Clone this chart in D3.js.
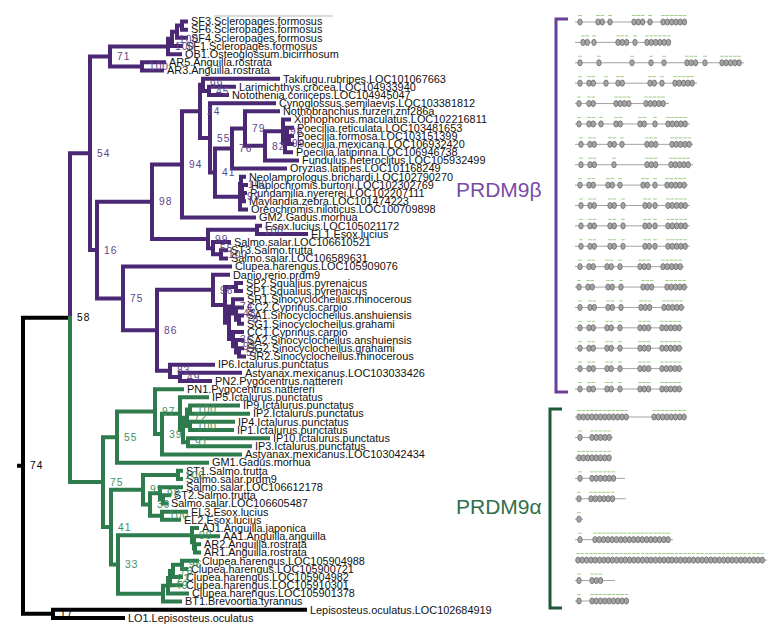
<!DOCTYPE html>
<html><head><meta charset="utf-8">
<script src="https://cdn.jsdelivr.net/npm/d3@7"></script>
<style>body{margin:0;background:#fff}</style>
</head><body><svg id="c" width="779" height="633"></svg>
<script>
// ---------- tree data ----------
const nodeNames = ["root","T","L","P","OA","Osteo","SFn1","SFn2","SFn3","AngR","Q","R","N94","A1","TLN","LN","N55","N41","N76","N79","N82","Poe1","Poe2","Poe3","Poe4","Cich1","Cich2","Cich3","Cich4","E","EsoxP","S1","S2","S","U","V","V2","SPp","V3","Cy1","Cy1b","Cy1c","Cy2","Cy2b","Cy2c","W","W2","G","G1","O","O2","I","I2","I3","IPa","IPb","I4","G2","SE","STp","SE2","STt","STi","ELp","AC","AN","AN2","AN3","CB","C1","C2","C3","C4"];
const nodeParents = [null,"root","root","T","P","OA","Osteo","SFn1","SFn2","OA","P","Q","R","N94","A1","TLN","A1","N55","N41","N76","N79","N82","Poe1","Poe2","Poe3","N41","Cich1","Cich2","Cich3","R","E","E","S1","Q","S","U","V","V2","V2","V3","Cy1","Cy1b","V3","Cy2","Cy2b","U","W","T","G","G1","O","O2","I","I2","I3","I3","I2","G","G2","SE","SE","SE2","STt","SE2","G2","AC","AN","AN2","AC","CB","C1","C2","C3"];
const nodeDepths = [0,47,30,67,87,145,149,154,159,119,74,129,159,177,180,186,187,192,209,222,242,260,262,264,266,217,218,219,220,185,234,190,198,100,134,190,202,213,206,210,213,216,210,213,216,147,157,80,94,132,139,157,160,164,167,167,165,88,120,155,127,137,140,139,95,169,171,172,140,145,147,150,159];
const nodeSupport = ["74","58","17","54","71","100","100","","","100","16","98","94","24","99","45","55","41","76","79","82","98","99","","","99","100","","","99","100","55","100","75","86","96","","","","74","48","78","36","94","57","83","49","75","55","97","39","","","72","100","100","91","41","99","100","39","98","","100","33","99","","","","49","22","76","96"];

const leafNames = ["SF3.Scleropages.formosus","SF6.Scleropages.formosus","SF4.Scleropages.formosus","SF1.Scleropages.formosus","OB1.Osteoglossum.bicirrhosum","AR5.Anguilla.rostrata","AR3.Anguilla.rostrata","Takifugu.rubripes.LOC101067663","Larimichthys.crocea.LOC104933940","Notothenia.coriiceps.LOC104945047","Cynoglossus.semilaevis.LOC103381812","Nothobranchius.furzeri.znf286a","Xiphophorus.maculatus.LOC102216811","Poecilia.reticulata.LOC103481653","Poecilia.formosa.LOC103151399","Poecilia.mexicana.LOC106932420","Poecilia.latipinna.LOC106946738","Fundulus.heteroclitus.LOC105932499","Oryzias.latipes.LOC101168249","Neolamprologus.brichardi.LOC102790270","Haplochromis.burtoni.LOC102302769","Pundamilia.nyererei.LOC102207111","Maylandia.zebra.LOC101474223","Oreochromis.niloticus.LOC100709898","GM2.Gadus.morhua","Esox.lucius.LOC105021172","EL1.Esox.lucius","Salmo.salar.LOC106610521","ST3.Salmo.trutta","Salmo.salar.LOC106589631","Clupea.harengus.LOC105909076","Danio.rerio.prdm9","SP2.Squalius.pyrenaicus","SP1.Squalius.pyrenaicus","SR1.Sinocyclocheilus.rhinocerous","CC2.Cyprinus.carpio","SA1.Sinocyclocheilus.anshuiensis","SG1.Sinocyclocheilus.grahami","CC1.Cyprinus.carpio","SA2.Sinocyclocheilus.anshuiensis","SG2.Sinocyclocheilus.grahami","SR2.Sinocyclocheilus.rhinocerous","IP6.Ictalurus.punctatus","Astyanax.mexicanus.LOC103033426","PN2.Pygocentrus.nattereri","PN1.Pygocentrus.nattereri","IP5.Ictalurus.punctatus","IP9.Ictalurus.punctatus","IP2.Ictalurus.punctatus","IP4.Ictalurus.punctatus","IP1.Ictalurus.punctatus","IP10.Ictalurus.punctatus","IP3.Ictalurus.punctatus","Astyanax.mexicanus.LOC103042434","GM1.Gadus.morhua","ST1.Salmo.trutta","Salmo.salar.prdm9","Salmo.salar.LOC106612178","ST2.Salmo.trutta","Salmo.salar.LOC106605487","EL3.Esox.lucius","EL2.Esox.lucius","AJ1.Anguilla.japonica","AA1.Anguilla.anguilla","AR2.Anguilla.rostrata","AR1.Anguilla.rostrata","Clupea.harengus.LOC105904988","Clupea.harengus.LOC105900721","Clupea.harengus.LOC105904982","Clupea.harengus.LOC105910301","Clupea.harengus.LOC105901378","BT1.Brevoortia.tyrannus","Lepisosteus.oculatus.LOC102684919","LO1.Lepisosteus.oculatus"];
const leafParents = ["SFn3","SFn3","SFn2","SFn1","Osteo","AngR","AngR","TLN","LN","LN","N55","N79","Poe1","Poe3","Poe4","Poe4","Poe2","N82","N76","Cich2","Cich3","Cich4","Cich4","Cich1","N94","EsoxP","EsoxP","S1","S2","S2","S","V","SPp","SPp","Cy1","Cy1b","Cy1c","Cy1c","Cy2","Cy2b","Cy2c","Cy2c","W","W2","W2","O","I","IPa","IPa","IPb","IPb","I4","I4","O2","G1","STp","STp","STt","STi","STi","ELp","ELp","AN","AN2","AN3","AN3","C4","C4","C3","C2","C1","CB","L","L"];
const leafDepths = [163,163,163,158,157,141,139,255,211,204,251,255,266,269,269,269,268,274,262,221,223,222,221,223,231,237,283,206,203,203,207,205,218,218,219,219,219,219,219,219,219,221,190,217,187,159,184,215,225,210,209,245,227,217,184,158,158,158,146,143,163,156,174,195,176,176,174,163,158,158,164,157,282,100];

const cladeStarts = ["root","P","G"];
const cladeKeys = ["outgroup","beta","alpha"];
const cladeLabels = ["PRDM9β","PRDM9α"];

// ---------- domain architecture rows (ZnF groups: [start, count]) ----------
const betaRowLengths = [110,95,169,122,94,115,118,118,113,115,115,115,109,113,110,108,108,108,108];
const betaRowZnf = [
 [[5,1],[23,2],[35,1],[59,3],[75,1],[88,6]],
 [[8,2],[19,1],[43,3],[60,1],[72,6]],
 [[5,1],[24,1],[57,1],[76,1],[89,1],[112,3],[130,1],[147,5]],
 [[5,1],[14,2],[31,1],[43,2],[75,2],[87,1],[100,5]],
 [[4,1],[14,2],[41,4],[71,5]],
 [[4,1],[14,2],[26,1],[41,2],[65,2],[80,1],[93,5]],
 [[6,1],[15,2],[35,2],[47,1],[72,3],[97,5]],
 [[6,1],[15,2],[39,1],[72,3],[96,5]],
 [[5,1],[14,2],[33,2],[45,1],[68,2],[80,1],[92,5]],
 [[6,1],[15,2],[35,2],[48,1],[70,2],[80,1],[93,5]],
 [[6,1],[15,2],[35,2],[48,1],[70,2],[80,1],[93,5]],
 [[6,1],[15,2],[35,2],[48,1],[70,2],[80,1],[93,5]],
 [[5,1],[14,2],[32,2],[45,1],[65,3],[88,5]],
 [[4,1],[13,2],[33,2],[46,1],[68,3],[92,5]],
 [[5,1],[15,2],[33,2],[46,1],[66,3],[89,5]],
 [[5,1],[14,2],[32,2],[45,1],[65,3],[87,5]],
 [[5,1],[14,2],[32,2],[45,1],[65,3],[87,5]],
 [[5,1],[14,2],[32,2],[45,1],[65,3],[87,5]],
 [[5,1],[14,2],[32,2],[45,1],[65,3],[87,5]]
];
const alphaRowLengths = [112,38,36,50,51,8,98,192,40,53];
const alphaRowZnf = [
 [[4,12],[79,8]],
 [[5,1],[17,5]],
 [[4,8]],
 [[5,1],[17,6]],
 [[4,1],[16,6]],
 [[4,1]],
 [[5,1],[20,18]],
 [[3,22],[97,22]],
 [[4,1],[17,3]],
 [[4,1],[17,9]]
];

// ---------- styles ----------
const branchColor = {outgroup:"#000000", beta:"#4b2874", alpha:"#2e7b4d"};
const supportColor = {outgroup:"#000000", beta:"#5e4489", alpha:"#3e8f5e"};
const font = "'Liberation Sans', Arial, Helvetica, sans-serif";

const svg = d3.select("#c");
const xScale = d3.scaleLinear().domain([0, 500]).range([23, 523]);
const yScale = d3.scaleLinear().domain([0, leafNames.length - 1]).range([21.5, 617.9]);

const rows = nodeNames.map((id, i) => ({id, parent: nodeParents[i], depth: nodeDepths[i], support: nodeSupport[i], leaf: false}))
  .concat(leafNames.map((id, i) => ({id, parent: leafParents[i], depth: leafDepths[i], leaf: true, order: i})));
const tree = d3.stratify().id(d => d.id).parentId(d => d.parent)(rows);

tree.eachAfter(n => {
  if (!n.children) n.py = yScale(n.data.order);
  else { const ys = n.children.map(c => c.py); n.py = (d3.min(ys) + d3.max(ys)) / 2; }
  n.px = xScale(n.data.depth);
});
tree.eachBefore(n => {
  const k = cladeStarts.indexOf(n.id);
  n.clade = k >= 0 ? cladeKeys[k] : n.parent.clade;
});

// branches
const order = {outgroup: 0, beta: 1, alpha: 2};
const edges = tree.descendants().filter(n => n.parent).sort((a, b) => order[a.clade] - order[b.clade]);
const gB = svg.append("g");
gB.append("line").attr("x1", xScale(-6)).attr("x2", xScale(0)).attr("y1", tree.py).attr("y2", tree.py)
  .attr("stroke", "#000").attr("stroke-width", 4);
gB.selectAll("path").data(edges).join("path")
  .attr("d", n => `M${n.parent.px},${n.parent.py}V${n.py}H${n.px}`)
  .attr("fill", "none").attr("stroke", n => branchColor[n.clade])
  .attr("stroke-width", 4).attr("stroke-linecap", "square").attr("stroke-linejoin", "miter");

// leaf labels
const leafText = svg.append("g").selectAll("text").data(tree.leaves()).join("text")
  .attr("x", n => n.px + 5).attr("y", n => n.py).attr("dy", "0.35em")
  .attr("font-family", font).attr("font-size", 10.9).attr("fill", "#111")
  .text(n => n.id);

// support labels
svg.append("g").selectAll("text").data(tree.descendants().filter(n => n.children && n.data.support)).join("text")
  .attr("x", n => n.px + 7).attr("y", n => n.py).attr("dy", "0.36em")
  .attr("font-family", font).attr("font-size", 10.2).attr("letter-spacing", 1)
  .attr("fill", n => supportColor[n.clade]).text(n => n.data.support);

// faint line above first label
const b0 = leafText.node().getBBox();
svg.append("line").attr("x1", b0.x + 23).attr("x2", b0.x + b0.width + 10)
  .attr("y1", yScale(0) - 5.5).attr("y2", yScale(0) - 5.5).attr("stroke", "#b8b8b8").attr("stroke-width", 1.2);

// clade labels
svg.append("text").attr("x", 456).attr("y", 189).attr("dy", "0.36em")
  .attr("font-family", font).attr("font-size", 21).attr("fill", "#7a4ba6").text(cladeLabels[0]);
svg.append("text").attr("x", 456).attr("y", 506).attr("dy", "0.36em")
  .attr("font-family", font).attr("font-size", 21).attr("fill", "#2f6f4a").text(cladeLabels[1]);

// domain rows
const domX = d3.scaleLinear().domain([0, 200]).range([575, 775]);
const betaY = d3.scaleLinear().domain([0, betaRowLengths.length - 1]).range([22, 389]);
const alphaY = d3.scaleLinear().domain([0, alphaRowLengths.length - 1]).range([417, 601]);
const znfStep = 4.3;
function drawRows(lengths, znfs, yS) {
  const g = svg.append("g");
  lengths.forEach((len, i) => {
    const y = yS(i);
    g.append("line").attr("x1", domX(0)).attr("x2", domX(len)).attr("y1", y).attr("y2", y)
      .attr("stroke", "#a3a3a3").attr("stroke-width", 1);
    const pos = [];
    znfs[i].forEach(([s, c]) => { for (let k = 0; k < c; k++) pos.push(s + k * znfStep); });
    pos.forEach(p => {
      g.append("line").attr("x1", domX(p) - 1.8).attr("x2", domX(p) + 1.8).attr("y1", y - 6.5).attr("y2", y - 6.5)
        .attr("stroke", "#9fcf86").attr("stroke-width", 1);
      g.append("ellipse").attr("cx", domX(p)).attr("cy", y).attr("rx", 2.2).attr("ry", 3.1)
        .attr("fill", "#a4a4a4").attr("stroke", "#6c6c6c").attr("stroke-width", 0.8);
    });
  });
}
drawRows(betaRowLengths, betaRowZnf, betaY);
drawRows(alphaRowLengths, alphaRowZnf, alphaY);

// brackets
function bracket(x, y1, y2, color) {
  svg.append("path").attr("d", `M${x + 12},${y1}H${x}V${y2}H${x + 12}`)
    .attr("fill", "none").attr("stroke", color).attr("stroke-width", 3);
}
bracket(556, betaY(0) - 3, betaY(betaRowLengths.length - 1) + 3, "#6a3f98");
bracket(550, alphaY(0) - 8, alphaY(alphaRowLengths.length - 1) + 7, "#1f5a38");
</script></body></html>
